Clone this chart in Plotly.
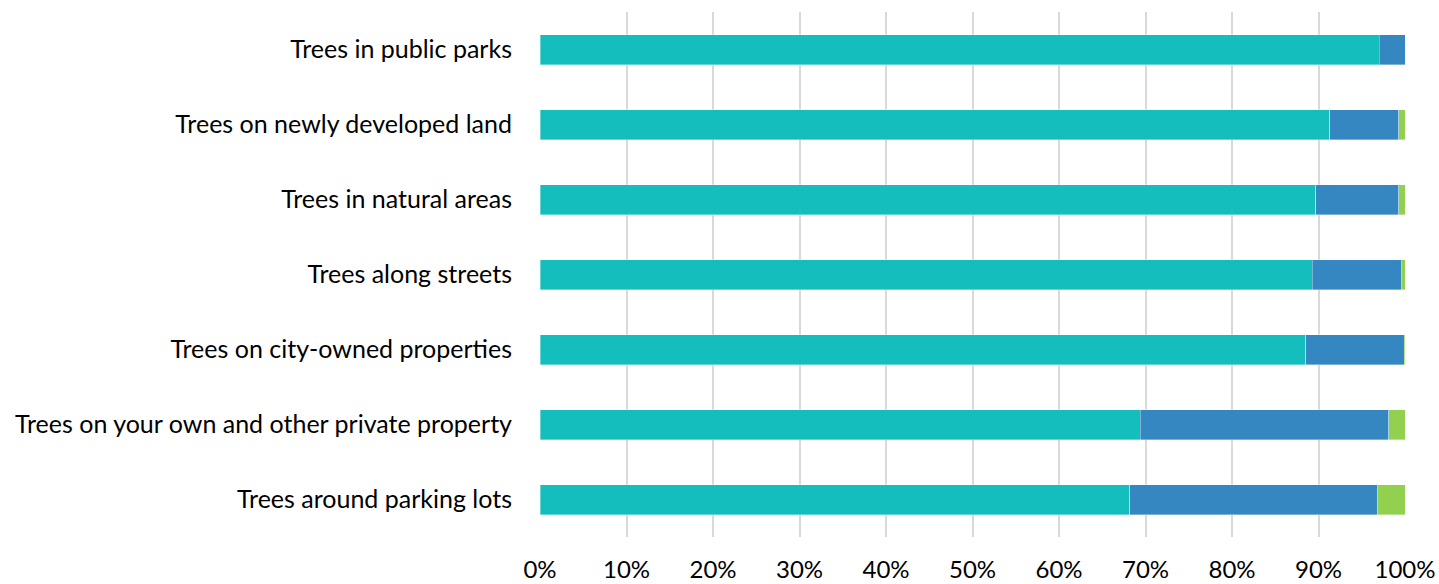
import plotly.graph_objects as go

categories = [
    "Trees in public parks",
    "Trees on newly developed land",
    "Trees in natural areas",
    "Trees along streets",
    "Trees on city-owned properties",
    "Trees on your own and other private property",
    "Trees around parking lots",
]
series_a = [0.970, 0.913, 0.897, 0.893, 0.885, 0.694, 0.682]
series_b = [0.030, 0.080, 0.096, 0.103, 0.114, 0.287, 0.286]
series_c = [0.000, 0.007, 0.007, 0.004, 0.001, 0.019, 0.032]
series_names = ["Series 1", "Series 2", "Series 3"]
colors = ["#13BEBD", "#3587C1", "#92D050"]
tick_vals = [i / 10 for i in range(11)]
tick_text = [f"{i*10}%" for i in range(11)]

fig = go.Figure()
for name, vals, col in zip(series_names, [series_a, series_b, series_c], colors):
    fig.add_trace(go.Bar(
        y=categories, x=vals, name=name, orientation="h",
        marker=dict(color=col, line=dict(width=0.6, color="rgba(255,255,255,0.6)")),
    ))

fig.update_layout(
    barmode="stack",
    bargap=0.6,
    showlegend=False,
    width=1439, height=584,
    margin=dict(l=540, r=34, t=12, b=47, autoexpand=False),
    plot_bgcolor="white", paper_bgcolor="white",
    font=dict(family="Lato, Carlito, Calibri, sans-serif", size=25, color="#000000"),
)
fig.update_xaxes(
    range=[0, 1], tickvals=tick_vals, ticktext=tick_text,
    showgrid=True, gridcolor="#D9D9D9", gridwidth=2,
    zeroline=False, showline=False, ticklabelstandoff=16,
    tickfont=dict(size=24), automargin=False,
)
fig.update_yaxes(
    categoryorder="array", categoryarray=categories[::-1],
    showgrid=False, showline=False, ticklabelstandoff=27, automargin=False,
)
fig.write_html(
    "out.html",
    config={"displayModeBar": False},
    post_script="document.body.style.margin='0';document.body.style.overflow='hidden';",
)
